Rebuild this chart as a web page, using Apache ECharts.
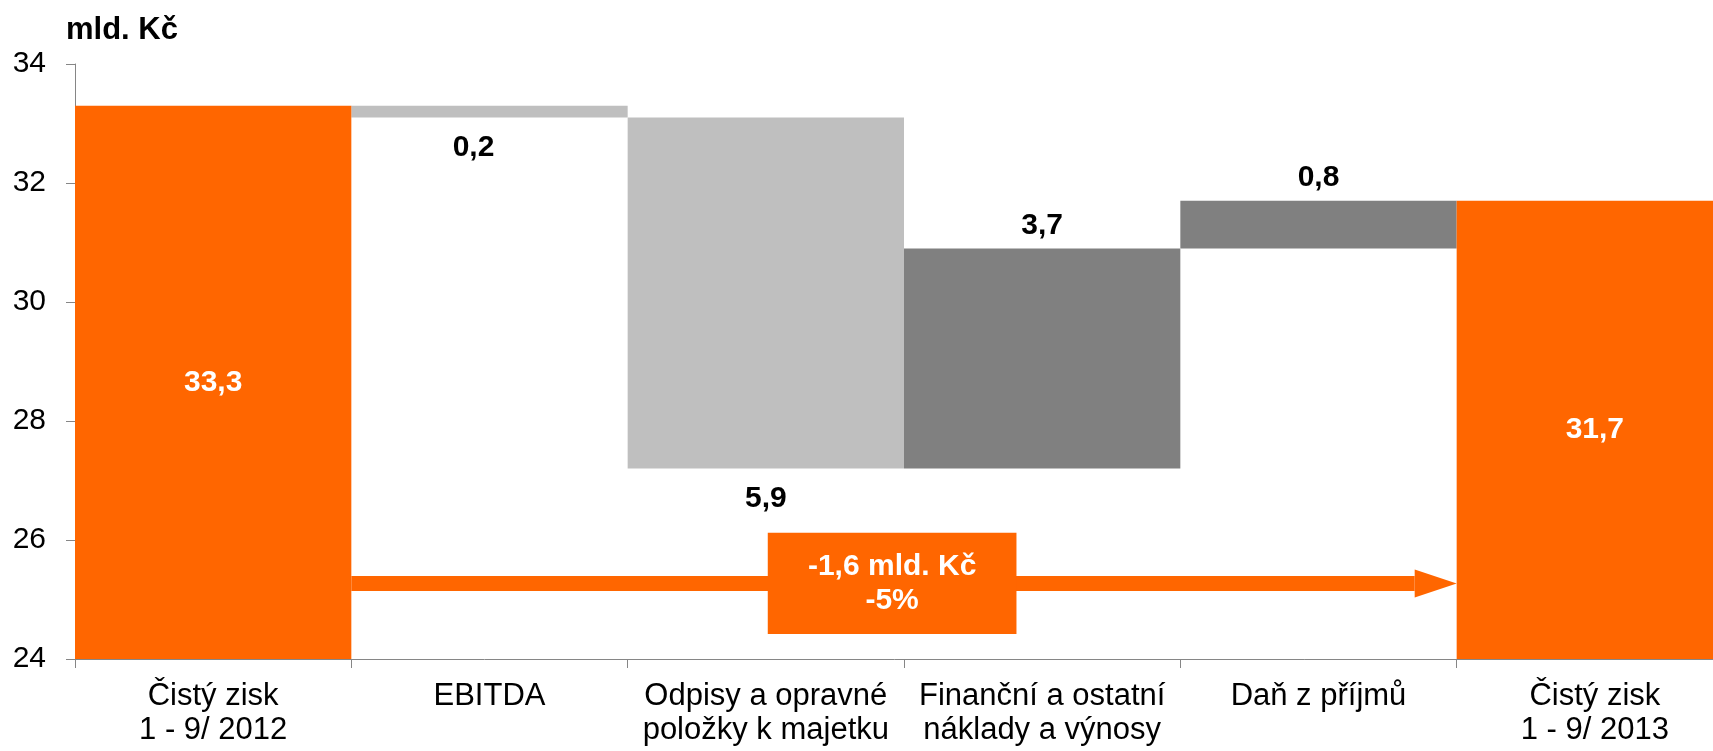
<!DOCTYPE html>
<html>
<head>
<meta charset="utf-8">
<title>Čistý zisk</title>
<script src="https://cdn.jsdelivr.net/npm/echarts@6/dist/echarts.min.js"></script>
<style>
  html, body { margin: 0; padding: 0; background: #ffffff; }
  #chart-container { width: 1713px; height: 751px; }
</style>
</head>
<body>
<div id="chart-container"></div>
<script>
// data
var categories = ['Čistý zisk\n1 - 9/ 2012', 'EBITDA', 'Odpisy a opravné\npoložky k majetku', 'Finanční a ostatní\nnáklady a výnosy', 'Daň z příjmů', 'Čistý zisk\n1 - 9/ 2013'];
var startTotal = 33.3;
var endTotal = 31.7;
var changes = [-0.2, -5.9, 3.7, 0.8];
var yMin = 24, yMax = 34, yStep = 2;
var bridgeText = ['-1,6 mld. Kč', '-5%'];

var font = '"Liberation Sans", Arial, sans-serif';
var orange = '#ff6600';

// waterfall: transparent base + change bars
var baseData = [0];
var downData = ['-'];
var upData = ['-'];
var totalData = [startTotal];
var running = startTotal;
changes.forEach(function (c) {
  var next = running + c;
  baseData.push(Math.min(running, next));
  downData.push(c < 0 ? -c : '-');
  upData.push(c > 0 ? c : '-');
  totalData.push('-');
  running = next;
});
baseData.push(0);
downData.push('-');
upData.push('-');
totalData.push(endTotal);

// the EBITDA label sits a bit left of the bar centre in the original
downData[1] = { value: downData[1], label: { offset: [-16, 0] } };

function fmt(p) {
  return Number(p.value).toFixed(1).replace('.', ',');
}

var dom = document.getElementById('chart-container');
var myChart = echarts.init(dom, null, { renderer: 'canvas' });
var option;

option = {
  backgroundColor: '#ffffff',
  animation: false,
  title: {
    text: 'mld. Kč',
    left: 66,
    top: 15,
    padding: 0,
    textStyle: { fontFamily: font, fontSize: 31, fontWeight: 'bold', color: '#000000' }
  },
  grid: {
    left: 75,
    top: 64,
    width: 1658,
    height: 595,
    containLabel: false,
    outerBoundsMode: 'none'
  },
  xAxis: {
    type: 'category',
    data: categories,
    axisLine: { lineStyle: { color: '#868686', width: 1 } },
    axisTick: { show: true, length: 9, lineStyle: { color: '#868686' } },
    axisLabel: {
      color: '#000000',
      fontFamily: font,
      fontSize: 31,
      lineHeight: 34,
      margin: 20,
      interval: 0
    },
    splitLine: { show: false }
  },
  yAxis: {
    type: 'value',
    min: yMin,
    max: yMax,
    interval: yStep,
    axisLine: { show: true, lineStyle: { color: '#868686', width: 1 } },
    axisTick: { show: true, length: 9, lineStyle: { color: '#868686' } },
    axisLabel: { color: '#000000', fontFamily: font, fontSize: 30, margin: 29 },
    splitLine: { show: false }
  },
  series: [
    {
      name: 'base',
      type: 'bar',
      stack: 'w',
      barWidth: '100%',
      barCategoryGap: '0%',
      itemStyle: { color: 'rgba(0,0,0,0)' },
      emphasis: { disabled: true },
      data: baseData
    },
    {
      name: 'pokles',
      type: 'bar',
      stack: 'w',
      barWidth: '100%',
      itemStyle: { color: '#bfbfbf' },
      label: {
        show: true,
        position: 'bottom',
        distance: 15,
        formatter: fmt,
        color: '#000000',
        fontFamily: font,
        fontSize: 30,
        fontWeight: 'bold'
      },
      data: downData
    },
    {
      name: 'nárůst',
      type: 'bar',
      stack: 'w',
      barWidth: '100%',
      itemStyle: { color: '#808080' },
      label: {
        show: true,
        position: 'top',
        distance: 8,
        formatter: fmt,
        color: '#000000',
        fontFamily: font,
        fontSize: 30,
        fontWeight: 'bold'
      },
      data: upData
    },
    {
      name: 'Čistý zisk',
      type: 'bar',
      stack: 'w',
      barWidth: '100%',
      itemStyle: { color: orange },
      label: {
        show: true,
        position: 'inside',
        formatter: fmt,
        color: '#ffffff',
        fontFamily: font,
        fontSize: 30,
        fontWeight: 'bold'
      },
      data: totalData
    }
  ]
};

myChart.setOption(option);

// arrow between the two totals with the difference box
function drawBridge() {
  var c0 = myChart.convertToPixel({ xAxisIndex: 0 }, categories[0]);
  var c1 = myChart.convertToPixel({ xAxisIndex: 0 }, categories[1]);
  var c2 = myChart.convertToPixel({ xAxisIndex: 0 }, categories[2]);
  var c5 = myChart.convertToPixel({ xAxisIndex: 0 }, categories[5]);
  var band = c1 - c0;
  var left = c0 + band / 2;
  var right = c5 - band / 2;
  var yArrow = myChart.convertToPixel({ yAxisIndex: 0 }, 25.27);
  var boxTop = myChart.convertToPixel({ yAxisIndex: 0 }, 26.12);
  var boxBottom = myChart.convertToPixel({ yAxisIndex: 0 }, 24.42);
  var boxW = band * 0.9;
  var boxCx = c2 + band * 0.457;
  var head = 42;

  myChart.setOption({
    graphic: [
      {
        type: 'rect',
        z: 10,
        shape: { x: left, y: yArrow - 7.5, width: right - head - left, height: 15 },
        style: { fill: orange }
      },
      {
        type: 'polygon',
        z: 10,
        shape: { points: [[right - head, yArrow - 14], [right, yArrow], [right - head, yArrow + 14]] },
        style: { fill: orange }
      },
      {
        type: 'rect',
        z: 11,
        shape: { x: boxCx - boxW / 2, y: boxTop, width: boxW, height: boxBottom - boxTop },
        style: { fill: orange }
      },
      {
        type: 'text',
        z: 12,
        style: {
          text: bridgeText.join('\n'),
          x: boxCx,
          y: (boxTop + boxBottom) / 2,
          align: 'center',
          verticalAlign: 'middle',
          fill: '#ffffff',
          fontFamily: font,
          fontSize: 30,
          fontWeight: 'bold',
          lineHeight: 34
        }
      }
    ]
  });
}

drawBridge();

window.addEventListener('resize', function () {
  myChart.resize();
  drawBridge();
});
</script>
</body>
</html>
